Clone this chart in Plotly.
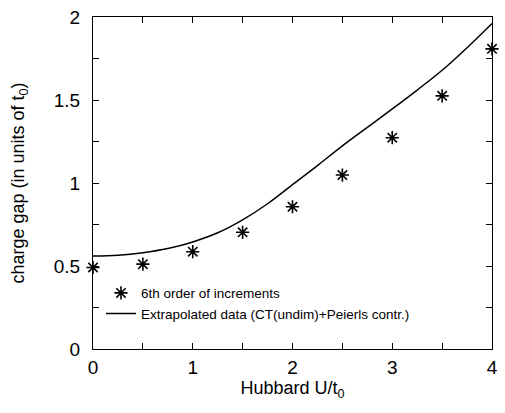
import plotly.graph_objects as go

# Charge gap vs Hubbard U/t0
u_points = [0, 0.5, 1, 1.5, 2, 2.5, 3, 3.5, 4]
gap_6th_order = [0.491, 0.511, 0.586, 0.703, 0.857, 1.048, 1.273, 1.525, 1.808]

u_curve = [0, 0.25, 0.5, 0.75, 1, 1.25, 1.5, 1.75, 2, 2.25, 2.5, 2.75, 3, 3.25, 3.5, 3.75, 4]
gap_extrapolated = [0.560, 0.565, 0.580, 0.605, 0.645, 0.700, 0.778, 0.875, 0.990,
                    1.105, 1.224, 1.335, 1.446, 1.560, 1.679, 1.815, 1.961]

x_ticks = [0, 1, 2, 3, 4]
y_ticks = [0, 0.5, 1, 1.5, 2]

FONT = "Liberation Sans, Arial, sans-serif"

fig = go.Figure()
fig.add_trace(go.Scatter(
    x=u_points, y=gap_6th_order, mode="markers",
    name="6th order of increments",
    marker=dict(symbol="asterisk-open", size=11, color="black",
                line=dict(color="black", width=1.6)),
    cliponaxis=False,
))
fig.add_trace(go.Scatter(
    x=u_curve, y=gap_extrapolated, mode="lines",
    name="Extrapolated data (CT(undim)+Peierls contr.)",
    line=dict(color="black", width=1.5, shape="spline"),
))

axis_common = dict(
    showgrid=False, zeroline=False, showline=True, linecolor="black", linewidth=1,
    mirror="allticks", ticks="inside", ticklen=6, tickcolor="black",
    tickfont=dict(family=FONT, size=19, color="black"),
)

fig.update_layout(
    width=505, height=413,
    margin=dict(l=93, r=7, t=13, b=64),
    paper_bgcolor="white", plot_bgcolor="white",
    font=dict(family=FONT, color="black"),
    showlegend=True,
    legend=dict(x=0.02, y=0.215, xanchor="left", yanchor="top",
                bgcolor="rgba(0,0,0,0)", font=dict(family=FONT, size=13.5, color="black"),
                tracegroupgap=0, itemwidth=30),
    xaxis=dict(range=[0, 4], tickvals=x_ticks, ticklabelstandoff=1,
               minor=dict(dtick=0.5, ticks="inside", ticklen=6, tickcolor="black"),
               title=dict(text="Hubbard U/t<sub>0</sub>", font=dict(family=FONT, size=18), standoff=4),
               **axis_common),
    yaxis=dict(range=[0, 2], tickvals=y_ticks, ticklabelstandoff=8,
               minor=dict(dtick=0.25, ticks="inside", ticklen=6, tickcolor="black"),
               title=dict(text="charge gap (in units of t<sub>0</sub>)", font=dict(family=FONT, size=18), standoff=24),
               **axis_common),
)

fig.write_html("out.html")
